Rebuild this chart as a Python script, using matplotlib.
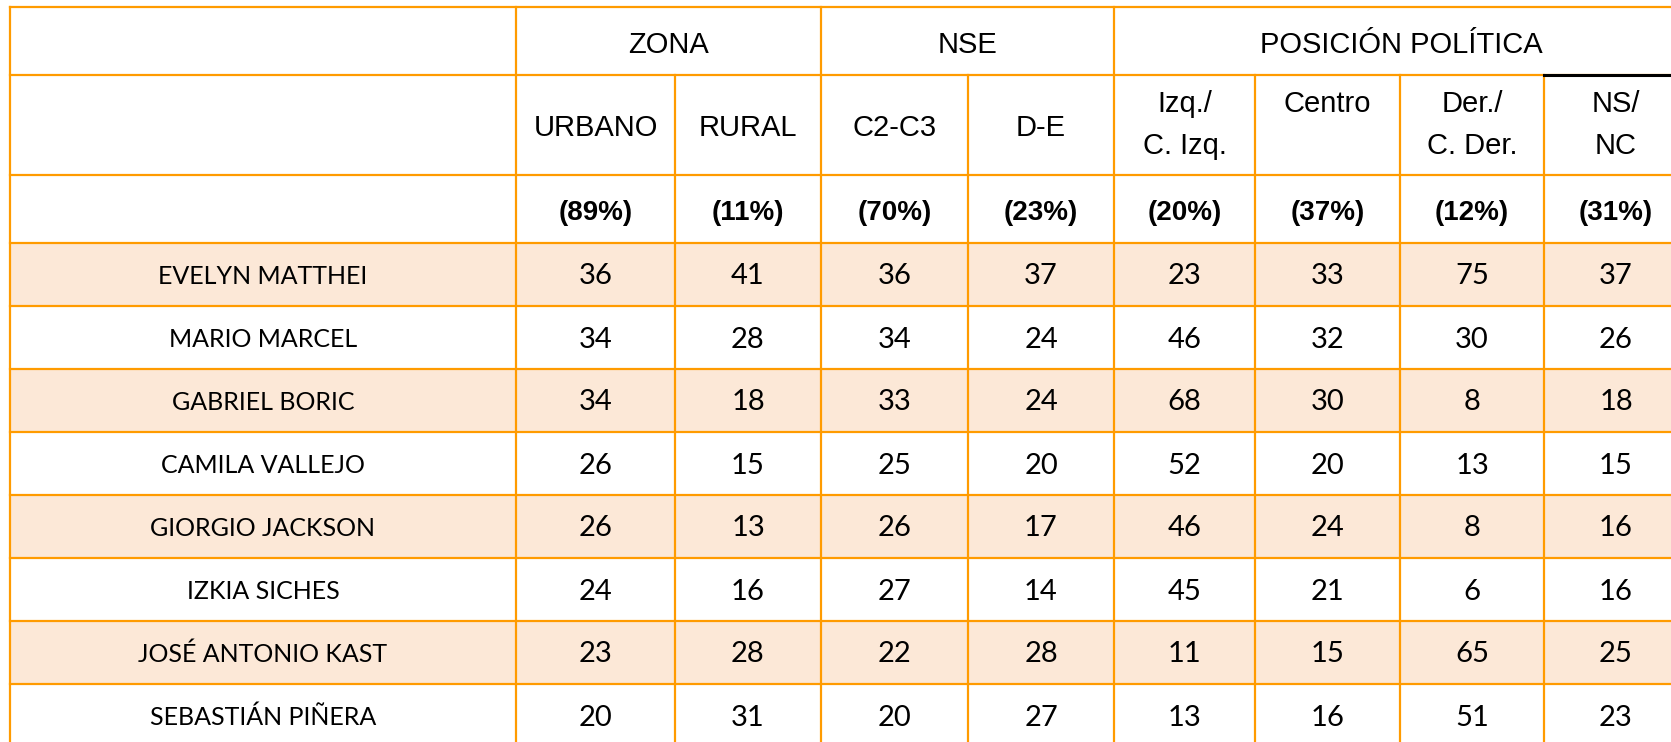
import matplotlib.pyplot as plt
from matplotlib.patches import Rectangle

# datos de la tabla
grupos = ['ZONA', 'NSE', 'POSICIÓN POLÍTICA']
grupo_span = [(1, 2), (3, 4), (5, 8)]
columnas = ['URBANO', 'RURAL', 'C2-C3', 'D-E', 'Izq./\nC. Izq.', 'Centro', 'Der./\nC. Der.', 'NS/\nNC']
pesos = ['(89%)', '(11%)', '(70%)', '(23%)', '(20%)', '(37%)', '(12%)', '(31%)']
nombres = ['EVELYN MATTHEI', 'MARIO MARCEL', 'GABRIEL BORIC', 'CAMILA VALLEJO',
           'GIORGIO JACKSON', 'IZKIA SICHES', 'JOSÉ ANTONIO KAST', 'SEBASTIÁN PIÑERA']
valores = [
    [36, 41, 36, 37, 23, 33, 75, 37],
    [34, 28, 34, 24, 46, 32, 30, 26],
    [34, 18, 33, 24, 68, 30, 8, 18],
    [26, 15, 25, 20, 52, 20, 13, 15],
    [26, 13, 26, 17, 46, 24, 8, 16],
    [24, 16, 27, 14, 45, 21, 6, 16],
    [23, 28, 22, 28, 11, 15, 65, 25],
    [20, 31, 20, 27, 13, 16, 51, 23],
]

# geometría (pixeles)
W, H = 1671, 742
xs = [10, 516, 675, 821, 968, 1114, 1255, 1400, 1544, 1688]
ys_head = [7, 75, 175, 243]
alto_fila = 63
ys = ys_head + [243 + alto_fila * (i + 1) for i in range(len(nombres))]

naranja = '#FF9B00'
relleno = '#FCE8D7'
f_head = 'Liberation Sans'
f_data = 'Lato'

fig = plt.figure(figsize=(W / 100, H / 100), dpi=100)
ax = fig.add_axes([0, 0, 1, 1])
ax.set_xlim(0, W)
ax.set_ylim(H, 0)
ax.axis('off')

# filas sombreadas
for i in range(len(nombres)):
    if i % 2 == 0:
        ax.add_patch(Rectangle((xs[0], ys[3 + i]), xs[-1] - xs[0], alto_fila,
                               facecolor=relleno, edgecolor='none', zorder=0))

lw = 1.6
# líneas horizontales
for y in ys:
    ax.plot([xs[0], xs[-1]], [y, y], color=naranja, lw=lw, zorder=2)
# línea negra sobre NS/NC
ax.plot([xs[8], xs[9]], [ys[1], ys[1]], color='black', lw=2.2, zorder=3)

# líneas verticales
ax.plot([xs[0], xs[0]], [ys[0], ys[-1]], color=naranja, lw=lw, zorder=2)
ax.plot([xs[1], xs[1]], [ys[0], ys[-1]], color=naranja, lw=lw, zorder=2)
for j in range(2, len(xs) - 1):
    borde_grupo = any(j == s for s, e in grupo_span)
    y0 = ys[0] if borde_grupo else ys[1]
    ax.plot([xs[j], xs[j]], [y0, ys[-1]], color=naranja, lw=lw, zorder=2)

# encabezado de grupos
for g, (s, e) in zip(grupos, grupo_span):
    cx = (xs[s] + xs[e + 1]) / 2
    ax.text(cx, 45, g, ha='center', va='center', fontsize=21, family=f_head)

# encabezado de columnas
for j, lab in enumerate(columnas):
    cx = (xs[j + 1] + xs[j + 2]) / 2
    lineas = lab.split('\n')
    if j < 4:
        ax.text(cx, 128, lab, ha='center', va='center', fontsize=21, family=f_head)
    else:
        for n, t in enumerate(lineas):
            ax.text(cx, 104 + 42 * n, t, ha='center', va='center', fontsize=21, family=f_head)
    ax.text(cx, 213, pesos[j], ha='center', va='center', fontsize=20,
            fontweight='bold', family=f_head)

# cuerpo
for i, nom in enumerate(nombres):
    cy = ys[3 + i] + alto_fila / 2 + 2
    ax.text((xs[0] + xs[1]) / 2, cy, nom, ha='center', va='center', fontsize=18, family=f_data)
    for j, v in enumerate(valores[i]):
        cx = (xs[j + 1] + xs[j + 2]) / 2
        ax.text(cx, cy, str(v), ha='center', va='center', fontsize=21, family=f_data)

fig.savefig('out.png', dpi=100, facecolor='white')
